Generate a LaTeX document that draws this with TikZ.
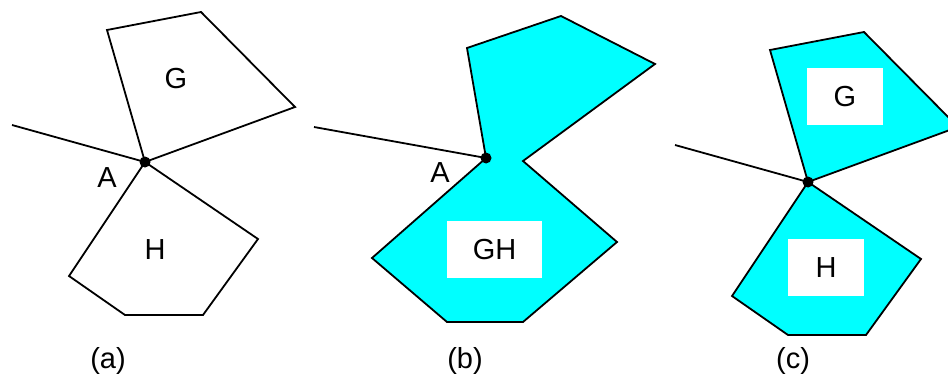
\documentclass[tikz,border=0pt]{standalone}
\usepackage{fontspec}
\setmainfont{Liberation Sans}
\definecolor{aqua}{RGB}{0,255,255}
\begin{document}
\begin{tikzpicture}[x=1pt,y=-1pt,
  edge/.style={line width=1.8pt,line join=miter},
  region/.style={edge,fill=aqua},
  lbl/.style={font=\fontsize{29}{33}\selectfont,inner sep=0pt},
  wbox/.style={fill=white,inner sep=0pt,font=\fontsize{29}{33}\selectfont},
  vdot/.style={circle,fill=black,inner sep=0pt,minimum size=11pt}]
\useasboundingbox (0,0) rectangle (948,380);
% ---------- (a)
\coordinate (aA) at (145,162);
\coordinate (aL) at (12,125);
\draw[edge] (107,30) -- (201,12) -- (295,107) -- (aA) -- cycle;
\draw[edge] (aA) -- (258,239) -- (203,315) -- (125,315) -- (69,276) -- cycle;
\draw[edge] (aL) -- (aA);
\node[vdot] (adot) at (aA) {};
\node[lbl] (aG) at (176,79) {G};
\node[lbl] (aH) at (155,250) {H};
\node[lbl] (aAl) at (107,178) {A};
\node[lbl] (acap) at (108,361) {(a)};
% ---------- (b)
\coordinate (bA) at (486,158);
\coordinate (bL) at (314,127);
\draw[region] (bA) -- (467,48) -- (561,16) -- (655,64) -- (523,161) -- (617,242) -- (523,322) -- (447,322) -- (372,258) -- cycle;
\draw[edge] (bL) -- (bA);
\node[vdot] (bdot) at (bA) {};
\node[wbox,minimum width=95pt,minimum height=57pt] (bGH) at (494.5,249.5) {GH};
\node[lbl] (bAl) at (440,173) {A};
\node[lbl] (bcap) at (465,361) {(b)};
% ---------- (c)
\coordinate (cA) at (808,182);
\coordinate (cL) at (675,145);
\draw[region] (cA) -- (770,50) -- (864,32) -- (958,127) -- cycle;
\draw[region] (cA) -- (921,259) -- (866,335) -- (788,335) -- (732,296) -- cycle;
\draw[edge] (cL) -- (cA);
\node[vdot] (cdot) at (cA) {};
\node[wbox,minimum width=76pt,minimum height=57pt] (cG) at (845,96.5) {G};
\node[wbox,minimum width=76pt,minimum height=57pt] (cH) at (826,267.5) {H};
\node[lbl] (ccap) at (793,361) {(c)};
\end{tikzpicture}
\end{document}
